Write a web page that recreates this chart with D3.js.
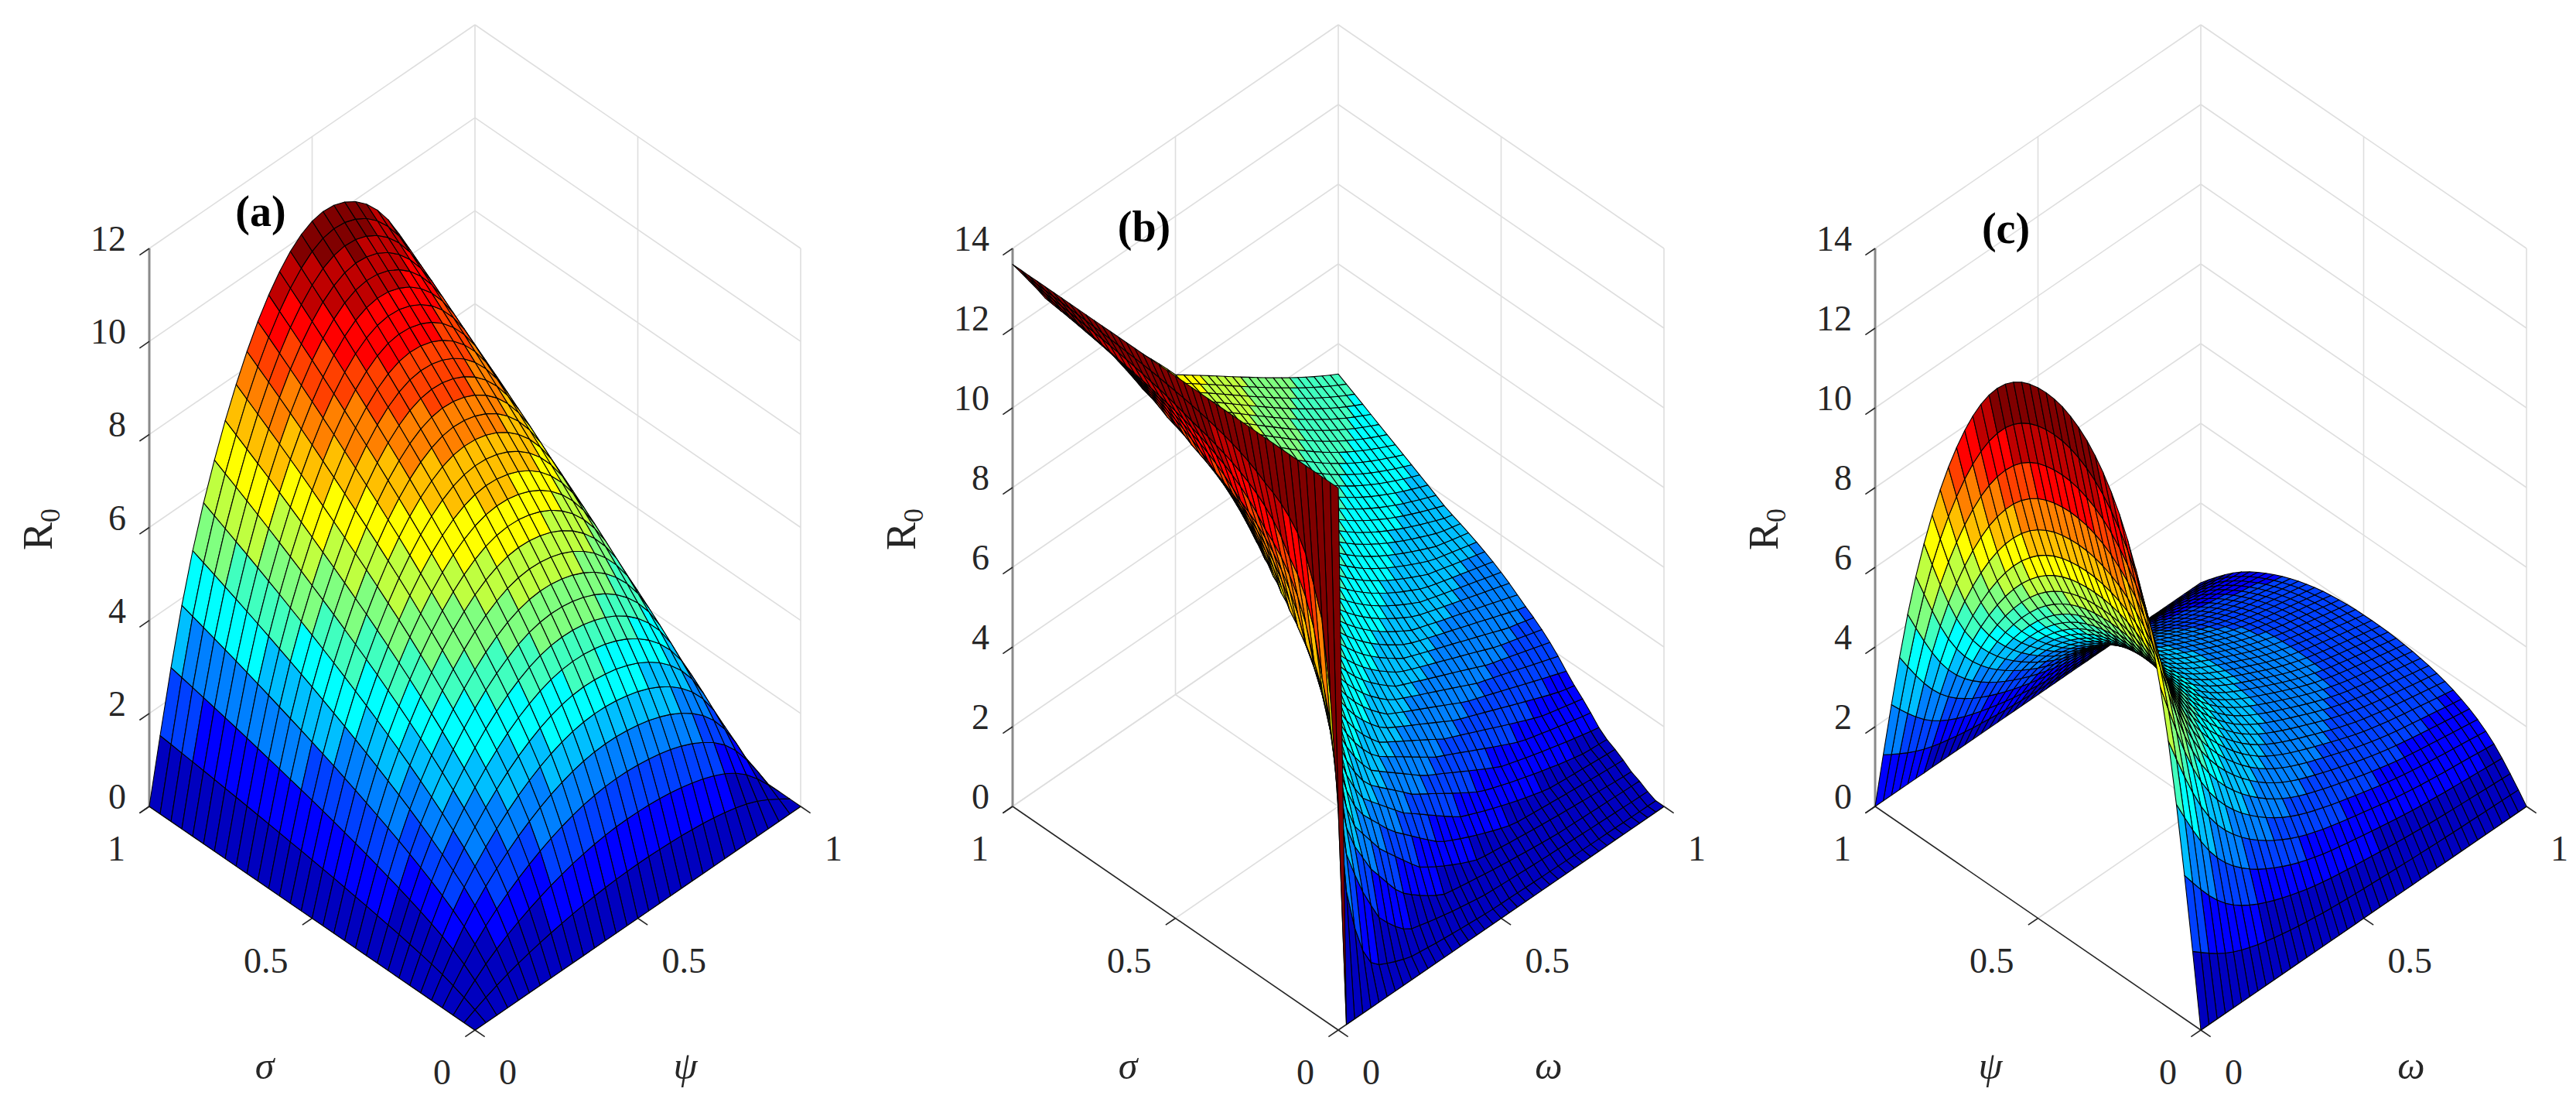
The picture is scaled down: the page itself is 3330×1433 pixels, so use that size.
<!DOCTYPE html>
<html><head><meta charset="utf-8">
<script src="https://cdn.jsdelivr.net/npm/d3@7"></script>
<style>body{margin:0;background:#fff}svg{display:block}</style>
</head><body>
<svg id="c" width="3330" height="1433"></svg>
<script>
// ---- data ----
const grid10 = [0,0.1,0.2,0.3,0.4,0.5,0.6,0.7,0.8,0.9,1];
// panel (a): R0(sigma, psi) = peakA * profSigmaA(sigma) * profPsiA(psi)
const peakA = 10.3;
const profSigmaA = [0,0.251,0.381,0.486,0.577,0.660,0.736,0.807,0.875,0.939,1];
const profPsiA   = [0,0.40,0.64,0.82,0.94,1,0.99,0.93,0.80,0.56,0];
// panel (b): R0(sigma, omega) = peakB * profRatioB(omega/sigma)
const peakB = 13.6;
const ratioB     = [0,0.1,0.25,0.5,1,1.5,2.3,3.5,5.3,10,20,40];
const profRatioB = [1,0.9,0.78,0.6,0.36,0.27,0.2,0.11,0.05,0.02,0.005,0];
// panel (c): R0(psi, omega) = peakC * profPsiC(psi) * profOmegaC(omega)
const peakC = 13.4;
const profPsiC   = [0,0.55,0.80,0.93,0.99,1,0.97,0.87,0.69,0.43,0];
const profOmegaC = [1,0.64,0.47,0.37,0.30,0.26,0.23,0.20,0.18,0.165,0.15];
const floorTicks = [0,0.5,1];
const zTicksA = [0,2,4,6,8,10,12];
const zTicksBC = [0,2,4,6,8,10,12,14];

// jet(16)
const jet16 = [[0,0,.75],[0,0,1],[0,.25,1],[0,.5,1],[0,.75,1],[0,1,1],[.25,1,.75],[.5,1,.5],[.75,1,.25],[1,1,0],[1,.75,0],[1,.5,0],[1,.25,0],[1,0,0],[.75,0,0],[.5,0,0]]
  .map(c=>d3.rgb(c[0]*255,c[1]*255,c[2]*255).formatHex());

function smooth(domain, prof){
  const idx = d3.scaleLinear().domain(domain).range(d3.range(domain.length)).clamp(true);
  const b = d3.interpolateBasis(prof);
  return x => b(idx(x)/(domain.length-1));
}
const sA = smooth(grid10, profSigmaA);
const pA = smooth(grid10, profPsiA);
const rB = smooth(ratioB, profRatioB);
const pC = smooth(grid10, profPsiC);
const oC = smooth(grid10, profOmegaC);

const panels = [
  {cx:614, zmax:12, zt:zTicksA, L:"σ", R:"ψ", tag:"(a)", tagdx:144, tagy:292, n:30,
   f:(u,v)=>peakA*sA(u)*pA(v)},
  {cx:1730, zmax:14, zt:zTicksBC, L:"σ", R:"ω", tag:"(b)", tagdx:170, tagy:312, n:40,
   f:(u,v)=> u===0 ? (v===0?peakB:0) : (v/u>40?0:peakB*rB(v/u))},
  {cx:2845, zmax:14, zt:zTicksBC, L:"ψ", R:"ω", tag:"(c)", tagdx:169, tagy:314, n:40,
   f:(u,v)=>peakC*pC(u)*oC(v)}
];

const svg = d3.select("#c");
const FONT = "'Liberation Serif', 'DejaVu Serif', serif";

panels.forEach(P=>{
  const g = svg.append("g");
  const hx = d3.scaleLinear().domain([-1,1]).range([P.cx-421,P.cx+421]);
  const fy = d3.scaleLinear().domain([0,2]).range([1331,1331-578]);
  const zs = d3.scaleLinear().domain([0,P.zmax]).range([0,721]);
  const X=(u,v)=>hx(v-u), Y=(u,v,z)=>fy(u+v)-zs(z);
  const line=(pts,col,w)=>g.append("path").attr("d",d3.line()(pts.map(p=>[X(p[0],p[1]),Y(p[0],p[1],p[2])])))
      .attr("fill","none").attr("stroke",col).attr("stroke-width",w);
  const gc="#dedede";
  P.zt.forEach(z=>{ line([[1,0,z],[1,1,z]],gc,1.6); line([[0,1,z],[1,1,z]],gc,1.6); });
  [[1,0.5],[1,1],[0.5,1],[0,1]].forEach(a=>line([[a[0],a[1],0],[a[0],a[1],P.zmax]],gc,1.6));
  line([[0.5,0,0],[0.5,1,0]],gc,1.6); line([[0,0.5,0],[1,0.5,0]],gc,1.6);
  line([[1,0,0],[1,1,0]],gc,1.6); line([[0,1,0],[1,1,0]],gc,1.6);
  line([[0,0,0],[1,0,0]],"#262626",1.6); line([[0,0,0],[0,1,0]],"#262626",1.6);
  line([[1,0,0],[1,0,P.zmax]],"#8a8a8a",3);
  const txt=(x,y,anchor,s)=>g.append("text").attr("x",x).attr("y",y).attr("text-anchor",anchor)
      .style("font-family",FONT).attr("font-size",46).attr("fill","#262626").text(s);
  floorTicks.forEach(t=>{
    line([[t,0,0],[t,-0.03,0]],"#262626",1.6);
    line([[0,t,0],[-0.03,t,0]],"#262626",1.6);
    txt(X(t,0)-31, Y(t,0,0)+70, "end", t);
    txt(X(0,t)+31, Y(0,t,0)+70, "start", t);
  });
  P.zt.forEach(z=>{
    line([[1,0,z],[1,-0.03,z]],"#262626",1.6);
    txt(X(1,0)-30, Y(1,0,z)+3, "end", z);
  });
  [[P.cx-272,P.L],[P.cx+272,P.R]].forEach(a=>g.append("text").attr("x",a[0]).attr("y",1394).attr("text-anchor","middle")
    .style("font-family",FONT).attr("font-style","italic").attr("font-size",50).attr("fill","#262626").text(a[1]));
  const r0 = g.append("text").attr("transform",`translate(${P.cx-421-126},684) rotate(-90)`)
    .attr("text-anchor","middle").style("font-family",FONT).attr("font-size",54).attr("fill","#262626");
  r0.append("tspan").text("R"); r0.append("tspan").attr("font-size",36).attr("dy",10).text("0");
  g.append("text").attr("x",P.cx-421+P.tagdx).attr("y",P.tagy).attr("text-anchor","middle").style("font-family",FONT)
    .attr("font-weight","bold").attr("font-size",56).attr("fill","#000").text(P.tag);

  const n=P.n, Z=[];
  for(let i=0;i<=n;i++){Z.push([]);for(let j=0;j<=n;j++)Z[i].push(P.f(i/n,j/n));}
  const ext=d3.extent(Z.flat());
  const cells=[];
  for(let i=0;i<n;i++)for(let j=0;j<n;j++){
    const c=[[i,j],[i+1,j],[i+1,j+1],[i,j+1]].map(a=>[a[0]/n,a[1]/n,Z[a[0]][a[1]]]);
    const du=(i+0.5)/n, dv=(j+0.5)/n, dz=(c[0][2]+c[1][2]+c[2][2]+c[3][2])/4;
    const depth=306*(du+dv)-679*dz/P.zmax;
    let k=Math.floor((Z[i][j]-ext[0])/(ext[1]-ext[0])*16); k=Math.max(0,Math.min(15,k));
    cells.push({c,depth,col:jet16[k]});
  }
  cells.sort((a,b)=>b.depth-a.depth);
  g.append("g").selectAll("path").data(cells).join("path")
    .attr("d",d=>"M"+d.c.map(p=>[X(p[0],p[1]).toFixed(1),Y(p[0],p[1],p[2]).toFixed(1)].join(",")).join("L")+"Z")
    .attr("fill",d=>d.col).attr("stroke","#000").attr("stroke-width",1.1).attr("stroke-linejoin","round");
});
</script>
</body></html>
